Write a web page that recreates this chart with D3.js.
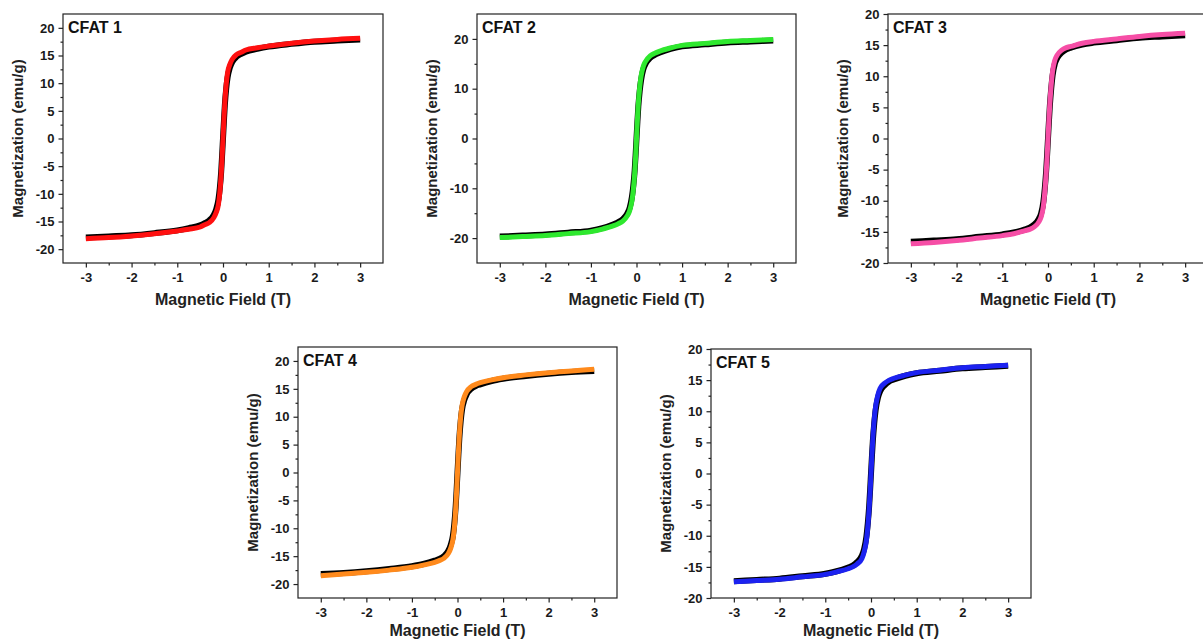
<!DOCTYPE html>
<html>
<head>
<meta charset="utf-8">
<script src="https://cdn.jsdelivr.net/npm/d3@7"></script>
<style>
  body { margin: 0; background: #fff; }
  svg { display: block; font-family: "Liberation Sans", Arial, sans-serif; }
  .tick text { font-weight: bold; fill: #1a1a1a; }
</style>
</head>
<body>
<svg id="chart" width="1203" height="641"></svg>
<script>
// applied field (T)
const field = [-3, -2.5, -2, -1.5, -1, -0.75, -0.5, -0.4, -0.3, -0.2, -0.15, -0.1, -0.07, -0.04, -0.02, 0,
               0.02, 0.04, 0.07, 0.1, 0.15, 0.2, 0.3, 0.4, 0.5, 0.75, 1, 1.5, 2, 2.5, 3];

// magnetization (emu/g), coloured curves
const cfat1 = [-18.1, -17.9, -17.6, -17.2, -16.7, -16.4, -16.0, -15.6, -15.2, -14.3, -13.4, -11.9, -9.8, -6.5, -3.4, 0,
               3.4, 6.5, 9.8, 11.9, 13.4, 14.3, 15.2, 15.6, 16.0, 16.4, 16.7, 17.2, 17.6, 17.9, 18.1];
const cfat2 = [-19.9, -19.7, -19.5, -19.1, -18.7, -18.2, -17.5, -17.1, -16.6, -15.5, -14.5, -12.5, -10.3, -7.0, -3.8, 0,
               3.8, 7.0, 10.3, 12.5, 14.5, 15.5, 16.6, 17.1, 17.5, 18.2, 18.7, 19.1, 19.5, 19.7, 19.9];
const cfat3 = [-16.9, -16.7, -16.4, -16.0, -15.6, -15.3, -14.8, -14.6, -14.2, -13.4, -12.6, -10.8, -8.6, -5.6, -3.0, 0,
               3.0, 5.6, 8.6, 10.8, 12.6, 13.4, 14.2, 14.6, 14.8, 15.3, 15.6, 16.0, 16.4, 16.7, 16.9];
const cfat4 = [-18.5, -18.2, -17.9, -17.5, -17.0, -16.6, -16.1, -15.8, -15.4, -14.5, -13.6, -12.0, -10.0, -6.6, -3.5, 0,
               3.5, 6.6, 10.0, 12.0, 13.6, 14.5, 15.4, 15.8, 16.1, 16.6, 17.0, 17.5, 17.9, 18.2, 18.5];
const cfat5 = [-17.4, -17.2, -17.0, -16.6, -16.2, -15.8, -15.3, -15.0, -14.5, -13.7, -12.6, -10.7, -8.6, -5.6, -3.0, 0,
               3.0, 5.6, 8.6, 10.7, 12.6, 13.7, 14.5, 15.0, 15.3, 15.8, 16.2, 16.6, 17.0, 17.2, 17.4];

// magnetization (emu/g), black curves underneath
const black1 = [-17.9, -17.7, -17.5, -17.1, -16.6, -16.2, -15.7, -15.3, -14.8, -13.8, -12.8, -11.0, -9.0, -6.0, -3.1, 0,
                3.1, 6.0, 9.0, 11.0, 12.8, 13.8, 14.8, 15.3, 15.7, 16.2, 16.6, 17.1, 17.5, 17.7, 17.9];
const black2 = [-19.7, -19.5, -19.3, -18.9, -18.5, -18.0, -17.2, -16.8, -16.2, -15.0, -13.9, -11.7, -9.5, -6.4, -3.4, 0,
                3.4, 6.4, 9.5, 11.7, 13.9, 15.0, 16.2, 16.8, 17.2, 18.0, 18.5, 18.9, 19.3, 19.5, 19.7];
const black3 = [-16.6, -16.4, -16.2, -15.8, -15.4, -15.1, -14.6, -14.3, -13.8, -12.9, -12.0, -10.1, -8.0, -5.2, -2.7, 0,
                2.7, 5.2, 8.0, 10.1, 12.0, 12.9, 13.8, 14.3, 14.6, 15.1, 15.4, 15.8, 16.2, 16.4, 16.6];
const black4 = [-18.2, -18.0, -17.7, -17.3, -16.8, -16.4, -15.8, -15.5, -15.0, -14.0, -13.0, -11.3, -9.2, -6.1, -3.2, 0,
                3.2, 6.1, 9.2, 11.3, 13.0, 14.0, 15.0, 15.5, 15.8, 16.4, 16.8, 17.3, 17.7, 18.0, 18.2];
const black5 = [-17.3, -17.1, -16.9, -16.5, -16.1, -15.7, -15.1, -14.8, -14.2, -13.2, -12.1, -10.1, -8.0, -5.2, -2.7, 0,
                2.7, 5.2, 8.0, 10.1, 12.1, 13.2, 14.2, 14.8, 15.1, 15.7, 16.1, 16.5, 16.9, 17.1, 17.3];

const xTicks = [-3, -2, -1, 0, 1, 2, 3];
const xMinor = [-2.5, -1.5, -0.5, 0.5, 1.5, 2.5];
const yTicks5 = [-20, -15, -10, -5, 0, 5, 10, 15, 20];
const yMinor5 = [-22.5, -17.5, -12.5, -7.5, -2.5, 2.5, 7.5, 12.5, 17.5, 22.5];
const yTicks10 = [-20, -10, 0, 10, 20];
const yMinor10 = [-25, -15, -5, 5, 15, 25];

const panels = [
  { name: "CFAT 1", m: cfat1, b: black1, color: "#ff1010", box: [63, 14, 383, 263], yDom: [-22.5, 22.5], yt: yTicks5, ym: yMinor5, tb: 42 },
  { name: "CFAT 2", m: cfat2, b: black2, color: "#2ee82e", box: [477, 14, 796, 263], yDom: [-25, 25], yt: yTicks10, ym: yMinor10, tb: 42 },
  { name: "CFAT 3", m: cfat3, b: black3, color: "#f64ea6", box: [888, 14, 1208, 263], yDom: [-20, 20], yt: yTicks5, ym: yMinor5, tb: 42 },
  { name: "CFAT 4", m: cfat4, b: black4, color: "#ff8a1c", box: [298, 347, 617, 598], yDom: [-22.5, 22.5], yt: yTicks5, ym: yMinor5, tb: 38 },
  { name: "CFAT 5", m: cfat5, b: black5, color: "#1c22f0", box: [711, 349, 1031, 598], yDom: [-20, 20], yt: yTicks5, ym: yMinor5, tb: 38 }
];

const svg = d3.select("#chart");
const fmt = function(d) { return String(d); };

panels.forEach(function(p) {
  let [x0, y0, x1, y1] = p.box;
  let g = svg.append("g");

  let x = d3.scaleLinear().domain([-3.5, 3.5]).range([x0, x1]);
  let y = d3.scaleLinear().domain(p.yDom).range([y1, y0]);

  let line = d3.line()
    .x(function(d) { return x(d[0]); })
    .y(function(d) { return y(d[1]); })
    .curve(d3.curveMonotoneX);

  g.append("path")
    .datum(d3.zip(field, p.b))
    .attr("d", line)
    .attr("fill", "none")
    .attr("stroke", "#000")
    .attr("stroke-width", 6);

  g.append("path")
    .datum(d3.zip(field, p.m))
    .attr("d", line)
    .attr("fill", "none")
    .attr("stroke", p.color)
    .attr("stroke-width", 5);

  // frame
  g.append("rect")
    .attr("x", x0).attr("y", y0)
    .attr("width", x1 - x0).attr("height", y1 - y0)
    .attr("fill", "none")
    .attr("stroke", "#222")
    .attr("stroke-width", 1.2);

  // minor ticks
  g.append("g")
    .attr("transform", "translate(0," + y1 + ")")
    .call(d3.axisBottom(x).tickValues(xMinor).tickSize(2.5).tickSizeOuter(0).tickFormat(""))
    .call(function(a) { a.select(".domain").remove(); });
  g.append("g")
    .attr("transform", "translate(" + x0 + ",0)")
    .call(d3.axisLeft(y).tickValues(p.ym.filter(function(v) { return v > p.yDom[0] && v < p.yDom[1]; }))
      .tickSize(2.5).tickSizeOuter(0).tickFormat(""))
    .call(function(a) { a.select(".domain").remove(); });

  // major ticks
  g.append("g")
    .attr("transform", "translate(0," + y1 + ")")
    .call(d3.axisBottom(x).tickValues(xTicks).tickSize(4.5).tickPadding(5).tickSizeOuter(0).tickFormat(fmt))
    .call(function(a) {
      a.select(".domain").remove();
      a.selectAll("text").style("font-size", "13px");
    });
  g.append("g")
    .attr("transform", "translate(" + x0 + ",0)")
    .call(d3.axisLeft(y).tickValues(p.yt).tickSize(4.5).tickPadding(4).tickSizeOuter(0).tickFormat(fmt))
    .call(function(a) {
      a.select(".domain").remove();
      a.selectAll("text").style("font-size", "13px");
    });
  g.selectAll(".tick line").attr("stroke", "#222").attr("stroke-width", 1.2);

  // titles
  g.append("text")
    .attr("x", (x0 + x1) / 2)
    .attr("y", y1 + p.tb)
    .attr("text-anchor", "middle")
    .style("font-size", "16px")
    .style("font-weight", "bold")
    .attr("fill", "#222")
    .text("Magnetic Field (T)");

  g.append("text")
    .attr("transform", "translate(" + (x0 - 40) + "," + ((y0 + y1) / 2) + ") rotate(-90)")
    .attr("text-anchor", "middle")
    .style("font-size", "15px")
    .style("font-weight", "bold")
    .attr("fill", "#222")
    .text("Magnetization (emu/g)");

  g.append("text")
    .attr("x", x0 + 5)
    .attr("y", y0 + 19)
    .style("font-size", "16px")
    .style("font-weight", "bold")
    .attr("fill", "#111")
    .text(p.name);
});
</script>
</body>
</html>
